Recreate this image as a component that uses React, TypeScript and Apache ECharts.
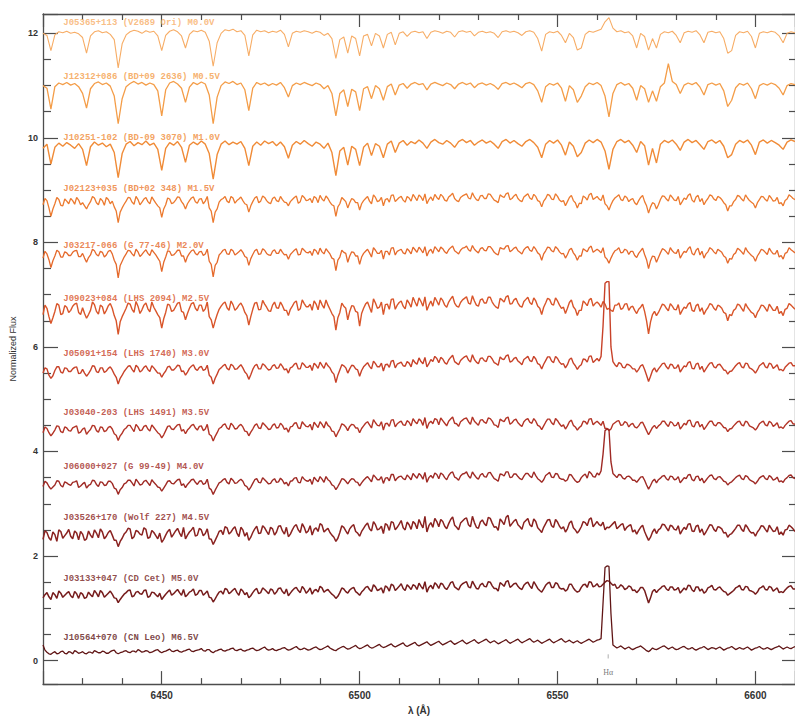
import React, { useEffect, useRef } from "react";
import * as echarts from "echarts";

// Wavelength sampling of the spectra (Angstrom): main samples at whole Angstrom,
// the later-type spectra also have samples half-way between them.
const waveStart = 6420;
const waveStep = 1;

// Axis tick layout: major every 50 A / 2 flux units, minor every 10 A / 0.5
const xTickStep = 50;
const xMinorPerMajor = 5;
const yTickStep = 2;
const yMinorPerMajor = 4;

const starNames = [
  "J05365+113 (V2689 Ori) M0.0V",
  "J12312+086 (BD+09 2636) M0.5V",
  "J10251-102 (BD-09 3070) M1.0V",
  "J02123+035 (BD+02 348) M1.5V",
  "J03217-066 (G 77-46) M2.0V",
  "J09023+084 (LHS 2094) M2.5V",
  "J05091+154 (LHS 1740) M3.0V",
  "J03040-203 (LHS 1491) M3.5V",
  "J06000+027 (G 99-49) M4.0V",
  "J03526+170 (Wolf 227) M4.5V",
  "J03133+047 (CD Cet) M5.0V",
  "J10564+070 (CN Leo) M6.5V",
];

const fluxM00 = [
  12.00,11.96,11.67,11.97,12.03,12.01,12.04,12.00,12.02,11.99,11.92,11.62,11.95,12.03,12.05,12.01,12.03,11.98,11.88,11.34,
  11.80,11.97,12.03,12.06,12.04,12.00,12.05,12.02,12.04,11.95,11.67,11.96,12.04,12.07,12.03,11.95,11.72,11.98,12.05,12.03,
  12.06,12.02,11.85,11.37,11.82,12.00,12.07,12.05,12.08,12.03,12.05,11.96,11.57,11.97,12.06,12.03,12.05,12.01,12.04,12.02,
  12.06,11.98,11.74,12.00,12.04,12.02,12.05,12.03,12.00,12.04,12.02,11.96,12.00,11.90,11.52,11.88,11.93,11.62,11.95,11.90,
  11.57,11.95,11.98,11.76,12.00,11.95,11.72,11.98,12.02,11.78,12.00,12.03,11.94,12.02,12.04,12.01,12.03,11.90,12.02,12.05,
  12.03,12.00,12.04,12.02,11.93,12.03,12.05,12.02,12.04,11.95,12.02,12.04,12.01,12.03,12.00,11.92,12.03,12.05,12.02,12.04,
  12.01,11.96,12.03,12.05,12.02,11.90,11.66,11.98,12.03,12.01,12.04,11.96,11.82,12.00,11.92,11.68,11.72,11.98,12.04,12.02,
  12.05,12.08,12.22,12.30,12.10,12.03,12.05,12.01,12.03,11.95,11.72,12.00,11.94,11.68,11.90,11.72,11.98,12.03,12.01,12.04,
  11.96,11.82,12.01,12.04,12.02,12.05,11.97,11.82,12.02,12.04,12.01,12.03,11.90,11.62,11.67,11.96,12.03,12.01,12.04,11.94,
  11.72,12.00,12.03,12.01,12.04,12.02,11.95,11.82,12.00,12.03,12.01,
];
const fluxM05 = [
  11.00,10.95,10.55,10.98,11.05,11.02,11.06,11.01,11.04,10.98,10.85,10.57,10.94,11.04,11.07,11.02,11.05,10.99,10.80,10.27,
  10.75,10.98,11.04,11.08,11.03,11.06,11.01,11.05,11.02,10.90,10.42,10.92,11.05,11.08,11.03,10.95,10.68,10.97,11.06,11.02,
  11.07,11.03,10.82,10.27,10.78,11.00,11.07,11.04,11.08,11.02,11.05,10.92,10.52,10.95,11.06,11.02,11.05,11.00,11.04,11.01,
  11.06,10.96,10.78,11.00,11.05,11.02,11.06,11.03,11.00,11.05,11.02,10.94,11.00,10.85,10.42,10.85,10.92,10.60,10.93,10.88,
  10.52,10.94,10.98,10.75,11.00,10.94,10.72,10.98,11.03,10.82,11.01,11.04,10.95,11.03,11.06,11.02,11.04,10.92,11.03,11.06,
  11.03,11.00,11.05,11.02,10.94,11.03,11.06,11.02,11.05,10.96,11.03,11.05,11.01,11.04,11.00,10.93,11.04,11.06,11.02,11.05,
  11.01,10.96,11.04,11.06,11.02,10.90,10.68,10.98,11.04,11.01,11.05,10.95,10.70,11.00,10.92,10.68,10.80,10.98,11.05,11.02,
  11.06,11.00,10.80,10.40,10.85,11.02,11.06,11.01,11.04,10.95,10.72,11.00,10.94,10.68,10.90,10.70,10.98,11.05,11.42,11.08,
  11.02,10.85,11.01,11.05,11.02,11.06,10.97,10.82,11.02,11.05,11.01,11.04,10.90,10.60,10.72,10.96,11.04,11.01,11.05,10.94,
  10.75,11.00,11.04,11.01,11.05,11.02,10.95,10.82,11.00,11.04,11.02,
];
const fluxM10 = [
  9.80,9.88,9.50,9.82,9.90,9.84,9.91,9.86,9.80,9.89,9.78,9.47,9.83,9.92,9.86,9.90,9.83,9.88,9.72,9.24,
  9.70,9.88,9.93,9.85,9.91,9.87,9.94,9.86,9.90,9.78,9.38,9.80,9.91,9.86,9.93,9.82,9.53,9.86,9.92,9.87,
  9.94,9.88,9.70,9.21,9.68,9.88,9.94,9.87,9.92,9.88,9.93,9.80,9.47,9.84,9.92,9.86,9.94,9.89,9.93,9.85,
  9.92,9.83,9.61,9.86,9.93,9.88,9.95,9.89,9.84,9.92,9.88,9.80,9.90,9.72,9.28,9.75,9.82,9.48,9.84,9.78,
  9.47,9.82,9.90,9.66,9.89,9.84,9.62,9.88,9.94,9.72,9.90,9.95,9.86,9.93,9.89,9.96,9.90,9.80,9.92,9.97,
  9.91,9.88,9.95,9.90,9.82,9.93,9.97,9.91,9.95,9.86,9.92,9.96,9.90,9.94,9.88,9.80,9.93,9.97,9.90,9.95,
  9.89,9.84,9.93,9.97,9.91,9.82,9.62,9.88,9.95,9.90,9.96,9.86,9.67,9.92,9.84,9.64,9.72,9.90,9.96,9.91,
  9.97,9.92,9.75,9.40,9.78,9.93,9.97,9.91,9.95,9.86,9.72,9.93,9.85,9.48,9.80,9.52,9.88,9.95,9.91,9.96,
  9.88,9.76,9.92,9.97,9.91,9.95,9.87,9.78,9.93,9.96,9.90,9.95,9.84,9.62,9.68,9.88,9.95,9.91,9.96,9.86,
  9.68,9.92,9.96,9.90,9.95,9.91,9.86,9.78,9.92,9.96,9.93,
];
const fluxM15 = [
  8.72,8.80,8.50,8.74,8.82,8.70,8.79,8.84,8.73,8.81,8.76,8.64,8.78,8.85,8.72,8.80,8.86,8.74,8.68,8.38,
  8.66,8.79,8.85,8.73,8.82,8.77,8.86,8.74,8.81,8.70,8.48,8.72,8.83,8.76,8.87,8.78,8.64,8.80,8.87,8.75,
  8.84,8.79,8.66,8.38,8.64,8.82,8.88,8.76,8.85,8.80,8.87,8.74,8.58,8.78,8.88,8.79,8.86,8.76,8.84,8.80,
  8.88,8.77,8.70,8.82,8.89,8.78,8.86,8.81,8.76,8.85,8.90,8.79,8.84,8.72,8.50,8.74,8.82,8.66,8.84,8.76,
  8.62,8.80,8.88,8.74,8.86,8.80,8.70,8.84,8.90,8.78,8.86,8.81,8.88,8.79,8.86,8.91,8.80,8.74,8.87,8.92,
  8.82,8.88,8.79,8.90,8.84,8.78,8.89,8.93,8.83,8.87,8.80,8.90,8.84,8.92,8.81,8.76,8.88,8.93,8.82,8.89,
  8.84,8.78,8.90,8.85,8.92,8.80,8.68,8.84,8.90,8.82,8.88,8.78,8.70,8.86,8.80,8.66,8.74,8.86,8.91,8.82,
  8.88,8.80,8.74,8.62,8.80,8.88,8.82,8.89,8.78,8.84,8.72,8.86,8.78,8.56,8.76,8.64,8.82,8.88,8.79,8.86,
  8.80,8.72,8.85,8.90,8.81,8.87,8.78,8.72,8.84,8.89,8.80,8.86,8.76,8.60,8.70,8.82,8.88,8.79,8.85,8.77,
  8.66,8.82,8.87,8.79,8.85,8.80,8.74,8.70,8.83,8.88,8.82,
];
const fluxM15Half = [
  8.84,8.66,8.64,8.86,8.71,8.83,8.74,8.80,8.86,8.72,8.70,8.72,8.88,8.76,8.84,8.71,8.82,8.79,8.60,8.58,
  8.73,8.86,8.77,8.88,8.72,8.83,8.78,8.87,8.75,8.66,8.64,8.85,8.74,8.81,8.86,8.73,8.74,8.85,8.78,8.83,
  8.74,8.88,8.60,8.58,8.77,8.84,8.79,8.88,8.75,8.83,8.80,8.72,8.70,8.85,8.76,8.89,8.80,8.74,8.87,8.78,
  8.82,8.76,8.78,8.86,8.75,8.90,8.80,8.84,8.88,8.76,8.83,8.89,8.77,8.70,8.68,8.86,8.78,8.76,8.82,8.76,
  8.74,8.84,8.79,8.91,8.78,8.86,8.82,8.77,8.91,8.82,8.88,8.77,8.85,8.92,8.80,8.87,8.93,8.82,8.80,8.86,
  8.92,8.81,8.87,8.94,8.80,8.86,8.91,8.85,8.95,8.82,8.89,8.84,8.93,8.86,8.79,8.91,8.86,8.95,8.84,8.92,
  8.80,8.87,8.93,8.82,8.88,8.78,8.79,8.92,8.83,8.93,8.81,8.80,8.78,8.90,8.76,8.75,8.89,8.81,8.94,8.85,
  8.83,8.91,8.70,8.72,8.85,8.91,8.80,8.86,8.82,8.76,8.80,8.90,8.70,8.68,8.74,8.72,8.89,8.83,8.91,8.81,
  8.88,8.78,8.82,8.93,8.77,8.90,8.84,8.79,8.91,8.83,8.88,8.82,8.72,8.70,8.78,8.90,8.83,8.91,8.80,8.74,
  8.76,8.88,8.82,8.90,8.79,8.86,8.76,8.80,8.91,8.84,
];
const fluxM20 = [
  7.70,7.78,7.52,7.74,7.82,7.72,7.80,7.75,7.84,7.73,7.79,7.62,7.76,7.84,7.74,7.81,7.76,7.85,7.66,7.32,
  7.64,7.78,7.84,7.74,7.82,7.77,7.86,7.75,7.81,7.70,7.44,7.72,7.83,7.76,7.85,7.74,7.62,7.79,7.86,7.76,
  7.83,7.78,7.64,7.34,7.62,7.80,7.87,7.77,7.84,7.79,7.86,7.73,7.56,7.77,7.87,7.78,7.85,7.76,7.83,7.79,
  7.87,7.76,7.68,7.81,7.88,7.77,7.85,7.80,7.75,7.84,7.89,7.78,7.83,7.70,7.46,7.72,7.81,7.62,7.82,7.74,
  7.58,7.79,7.87,7.72,7.85,7.79,7.68,7.83,7.89,7.76,7.85,7.80,7.88,7.78,7.86,7.91,7.80,7.74,7.87,7.92,
  7.82,7.88,7.79,7.90,7.84,7.78,7.89,7.93,7.83,7.87,7.80,7.90,7.84,7.92,7.81,7.76,7.88,7.93,7.82,7.89,
  7.84,7.78,7.90,7.85,7.92,7.80,7.66,7.84,7.90,7.82,7.88,7.78,7.70,7.86,7.80,7.66,7.74,7.85,7.90,7.81,
  7.87,7.80,7.72,7.60,7.78,7.86,7.80,7.87,7.77,7.83,7.71,7.84,7.77,7.50,7.74,7.62,7.80,7.86,7.77,7.84,
  7.79,7.70,7.83,7.88,7.79,7.85,7.76,7.70,7.82,7.87,7.78,7.84,7.74,7.60,7.68,7.80,7.86,7.77,7.83,7.75,
  7.64,7.80,7.85,7.77,7.83,7.78,7.72,7.68,7.81,7.86,7.80,
];
const fluxM20Half = [
  7.83,7.67,7.65,7.85,7.72,7.82,7.75,7.81,7.85,7.73,7.70,7.71,7.87,7.77,7.83,7.72,7.83,7.78,7.58,7.56,
  7.72,7.85,7.78,7.87,7.73,7.82,7.79,7.86,7.76,7.64,7.62,7.84,7.75,7.80,7.85,7.74,7.73,7.84,7.79,7.82,
  7.75,7.87,7.58,7.56,7.76,7.85,7.78,7.87,7.76,7.82,7.81,7.71,7.69,7.84,7.77,7.88,7.79,7.75,7.86,7.79,
  7.81,7.77,7.77,7.85,7.76,7.89,7.81,7.83,7.87,7.77,7.82,7.88,7.78,7.68,7.66,7.85,7.79,7.74,7.81,7.74,
  7.72,7.83,7.80,7.90,7.79,7.85,7.83,7.76,7.90,7.83,7.87,7.78,7.84,7.91,7.81,7.86,7.92,7.83,7.79,7.87,
  7.91,7.82,7.86,7.93,7.81,7.85,7.90,7.86,7.94,7.83,7.88,7.85,7.92,7.87,7.78,7.90,7.87,7.94,7.85,7.91,
  7.81,7.86,7.92,7.83,7.87,7.77,7.78,7.91,7.84,7.92,7.82,7.79,7.77,7.89,7.75,7.74,7.88,7.82,7.93,7.84,
  7.84,7.90,7.68,7.70,7.84,7.90,7.81,7.85,7.83,7.75,7.79,7.89,7.67,7.65,7.73,7.71,7.88,7.82,7.90,7.80,
  7.87,7.77,7.81,7.92,7.76,7.89,7.83,7.78,7.90,7.82,7.87,7.81,7.71,7.69,7.77,7.89,7.82,7.90,7.79,7.72,
  7.74,7.87,7.81,7.89,7.78,7.85,7.75,7.79,7.90,7.83,
];
const fluxM25 = [
  6.62,6.74,6.45,6.68,6.80,6.64,6.76,6.70,6.82,6.66,6.75,6.55,6.70,6.81,6.63,6.77,6.70,6.83,6.60,6.24,
  6.58,6.74,6.82,6.66,6.78,6.71,6.84,6.67,6.76,6.62,6.36,6.66,6.80,6.70,6.84,6.68,6.52,6.74,6.85,6.69,
  6.80,6.73,6.58,6.36,6.62,6.78,6.86,6.70,6.81,6.74,6.84,6.66,6.42,6.72,6.85,6.72,6.82,6.69,6.80,6.75,
  6.86,6.70,6.60,6.78,6.88,6.73,6.83,6.77,6.70,6.82,6.90,6.74,6.80,6.64,6.32,6.66,6.78,6.52,6.79,6.68,
  6.40,6.74,6.86,6.66,6.84,6.76,6.62,6.82,6.91,6.72,6.85,6.78,6.90,6.76,6.86,6.94,6.78,6.70,6.88,6.95,
  6.80,6.89,6.76,6.92,6.84,6.76,6.90,6.96,6.82,6.88,6.78,6.92,6.84,6.95,6.80,6.74,6.90,6.96,6.82,6.90,
  6.84,6.76,6.91,6.85,6.94,6.78,6.62,6.84,6.91,6.80,6.88,6.74,6.64,6.85,6.77,6.60,6.70,6.84,6.90,6.78,
  6.86,6.76,6.82,6.74,6.68,6.80,6.72,6.82,6.70,6.78,6.64,6.76,6.68,6.25,6.62,6.60,6.74,6.80,6.69,6.78,
  6.71,6.62,6.76,6.82,6.70,6.79,6.68,6.62,6.75,6.81,6.70,6.78,6.66,6.50,6.60,6.73,6.80,6.68,6.76,6.66,
  6.56,6.72,6.79,6.68,6.76,6.70,6.64,6.60,6.74,6.80,6.72,
];
const fluxM25Half = [
  6.80,6.58,6.56,6.83,6.62,6.79,6.66,6.78,6.84,6.62,6.64,6.62,6.86,6.68,6.80,6.63,6.79,6.74,6.50,6.48,
  6.66,6.84,6.72,6.87,6.64,6.80,6.73,6.86,6.69,6.56,6.54,6.82,6.68,6.77,6.85,6.66,6.64,6.83,6.74,6.80,
  6.68,6.86,6.52,6.50,6.72,6.83,6.75,6.88,6.70,6.80,6.77,6.60,6.58,6.84,6.71,6.89,6.76,6.68,6.86,6.74,
  6.79,6.70,6.72,6.85,6.70,6.90,6.77,6.82,6.88,6.71,6.81,6.90,6.72,6.58,6.56,6.84,6.74,6.68,6.78,6.66,
  6.64,6.82,6.76,6.92,6.74,6.86,6.81,6.72,6.92,6.80,6.88,6.73,6.84,6.95,6.78,6.87,6.96,6.80,6.78,6.88,
  6.94,6.80,6.86,6.97,6.78,6.85,6.93,6.84,6.98,6.80,6.90,6.84,6.95,6.86,6.76,6.93,6.86,6.98,6.83,6.93,
  6.78,6.87,6.95,6.81,6.88,6.74,6.76,6.93,6.82,6.94,6.80,6.76,6.74,6.90,6.72,6.70,6.88,6.79,6.93,6.83,
  6.82,6.87,6.72,6.70,6.80,6.84,6.74,6.83,6.76,6.70,6.72,6.82,6.50,6.48,6.68,6.66,6.82,6.74,6.83,6.72,
  6.81,6.70,6.74,6.85,6.68,6.82,6.75,6.70,6.83,6.74,6.80,6.74,6.64,6.62,6.70,6.82,6.74,6.83,6.71,6.64,
  6.66,6.80,6.74,6.82,6.70,6.78,6.68,6.72,6.83,6.76,
];
const fluxM30 = [
  5.50,5.58,5.40,5.55,5.62,5.50,5.59,5.53,5.61,5.49,5.57,5.44,5.55,5.63,5.51,5.60,5.54,5.62,5.48,5.29,
  5.46,5.58,5.64,5.52,5.61,5.55,5.64,5.53,5.60,5.50,5.42,5.54,5.63,5.56,5.65,5.53,5.46,5.59,5.66,5.55,
  5.63,5.57,5.46,5.29,5.48,5.60,5.67,5.56,5.64,5.58,5.66,5.52,5.38,5.57,5.67,5.58,5.65,5.56,5.64,5.59,
  5.68,5.56,5.50,5.62,5.69,5.58,5.66,5.61,5.55,5.65,5.71,5.59,5.64,5.52,5.32,5.56,5.64,5.50,5.65,5.58,
  5.44,5.62,5.70,5.58,5.68,5.62,5.54,5.67,5.73,5.60,5.69,5.64,5.72,5.62,5.70,5.79,5.68,5.62,5.76,5.82,
  5.70,5.77,5.67,5.80,5.72,5.66,5.78,5.83,5.71,5.76,5.68,5.79,5.72,5.82,5.70,5.65,5.77,5.83,5.71,5.78,
  5.73,5.66,5.79,5.74,5.82,5.68,5.58,5.74,5.81,5.70,5.78,5.67,5.60,5.76,5.69,5.57,5.66,5.76,5.82,5.70,
  5.78,5.82,7.22,7.25,5.72,5.62,5.68,5.60,5.66,5.58,5.52,5.64,5.57,5.34,5.55,5.52,5.63,5.69,5.58,5.66,
  5.60,5.52,5.64,5.70,5.59,5.67,5.57,5.52,5.64,5.70,5.60,5.67,5.56,5.48,5.54,5.64,5.70,5.60,5.68,5.58,
  5.50,5.64,5.70,5.60,5.67,5.62,5.56,5.54,5.65,5.70,5.64,
];
const fluxM30Half = [
  5.60,5.46,5.45,5.62,5.52,5.60,5.53,5.58,5.62,5.50,5.50,5.49,5.64,5.53,5.60,5.51,5.59,5.56,5.42,5.40,
  5.53,5.63,5.57,5.65,5.52,5.61,5.57,5.64,5.55,5.50,5.49,5.62,5.56,5.60,5.64,5.54,5.52,5.63,5.58,5.61,
  5.55,5.65,5.42,5.40,5.57,5.64,5.59,5.67,5.57,5.62,5.60,5.48,5.47,5.64,5.58,5.68,5.60,5.57,5.66,5.60,
  5.63,5.58,5.60,5.67,5.58,5.70,5.61,5.65,5.69,5.59,5.65,5.70,5.60,5.48,5.46,5.66,5.60,5.58,5.64,5.56,
  5.55,5.66,5.63,5.73,5.62,5.69,5.66,5.61,5.74,5.67,5.71,5.63,5.69,5.76,5.67,5.72,5.80,5.68,5.72,5.78,
  5.80,5.70,5.75,5.84,5.69,5.74,5.81,5.75,5.85,5.71,5.78,5.74,5.82,5.77,5.68,5.81,5.76,5.85,5.73,5.80,
  5.70,5.76,5.82,5.72,5.77,5.66,5.67,5.81,5.73,5.82,5.71,5.68,5.66,5.79,5.64,5.63,5.77,5.71,5.83,5.74,
  5.73,6.40,7.25,6.00,5.66,5.70,5.61,5.67,5.63,5.58,5.57,5.66,5.46,5.44,5.60,5.58,5.68,5.62,5.67,5.59,
  5.66,5.58,5.62,5.72,5.58,5.69,5.63,5.58,5.69,5.62,5.66,5.62,5.55,5.53,5.59,5.68,5.62,5.69,5.60,5.55,
  5.56,5.67,5.62,5.69,5.59,5.66,5.57,5.61,5.69,5.64,
];
const fluxM35 = [
  4.36,4.44,4.30,4.41,4.48,4.36,4.45,4.39,4.47,4.35,4.43,4.33,4.42,4.49,4.37,4.46,4.40,4.48,4.34,4.21,
  4.35,4.45,4.50,4.38,4.47,4.41,4.50,4.39,4.46,4.36,4.26,4.40,4.49,4.42,4.51,4.39,4.34,4.45,4.52,4.41,
  4.49,4.43,4.33,4.20,4.36,4.46,4.53,4.42,4.50,4.44,4.52,4.39,4.30,4.43,4.53,4.44,4.51,4.42,4.50,4.45,
  4.54,4.42,4.37,4.48,4.55,4.44,4.52,4.47,4.41,4.51,4.57,4.45,4.50,4.39,4.28,4.43,4.51,4.40,4.52,4.45,
  4.36,4.49,4.57,4.45,4.55,4.49,4.41,4.54,4.60,4.47,4.56,4.51,4.59,4.49,4.57,4.62,4.50,4.44,4.58,4.63,
  4.51,4.59,4.49,4.62,4.54,4.48,4.60,4.64,4.52,4.58,4.50,4.61,4.54,4.63,4.51,4.46,4.59,4.64,4.52,4.60,
  4.55,4.48,4.61,4.56,4.63,4.50,4.42,4.56,4.62,4.51,4.59,4.48,4.43,4.57,4.50,4.41,4.49,4.57,4.62,4.51,
  4.58,4.50,4.44,4.40,4.52,4.58,4.50,4.57,4.47,4.54,4.45,4.55,4.48,4.32,4.46,4.44,4.52,4.58,4.48,4.55,
  4.50,4.43,4.54,4.59,4.49,4.56,4.47,4.42,4.53,4.58,4.49,4.55,4.46,4.38,4.44,4.53,4.58,4.49,4.56,4.47,
  4.41,4.53,4.58,4.49,4.55,4.51,4.45,4.44,4.54,4.59,4.52,
];
const fluxM35Half = [
  4.47,4.36,4.35,4.49,4.38,4.47,4.40,4.45,4.49,4.37,4.45,4.38,4.50,4.40,4.47,4.38,4.46,4.43,4.31,4.30,
  4.42,4.50,4.44,4.52,4.40,4.48,4.43,4.51,4.41,4.33,4.32,4.48,4.43,4.47,4.52,4.42,4.41,4.50,4.45,4.48,
  4.40,4.52,4.30,4.29,4.44,4.51,4.45,4.54,4.43,4.49,4.47,4.38,4.37,4.50,4.45,4.55,4.47,4.43,4.53,4.46,
  4.50,4.45,4.47,4.54,4.45,4.57,4.48,4.52,4.56,4.46,4.52,4.57,4.47,4.38,4.36,4.53,4.47,4.48,4.51,4.45,
  4.44,4.54,4.51,4.61,4.50,4.57,4.53,4.48,4.61,4.53,4.58,4.50,4.56,4.63,4.53,4.59,4.65,4.54,4.53,4.61,
  4.64,4.54,4.58,4.66,4.53,4.57,4.63,4.57,4.66,4.54,4.60,4.56,4.64,4.58,4.50,4.62,4.57,4.66,4.55,4.62,
  4.51,4.57,4.63,4.54,4.58,4.48,4.49,4.62,4.55,4.63,4.53,4.51,4.49,4.60,4.47,4.46,4.58,4.52,4.63,4.55,
  4.54,4.58,4.44,4.43,4.55,4.59,4.51,4.55,4.52,4.47,4.49,4.56,4.40,4.39,4.50,4.49,4.58,4.52,4.57,4.49,
  4.56,4.48,4.51,4.60,4.47,4.57,4.52,4.47,4.58,4.51,4.55,4.51,4.45,4.43,4.49,4.57,4.51,4.58,4.49,4.45,
  4.46,4.56,4.51,4.58,4.48,4.55,4.47,4.50,4.58,4.53,
];
const fluxM40 = [
  3.33,3.40,3.28,3.36,3.43,3.32,3.40,3.35,3.42,3.31,3.38,3.30,3.37,3.44,3.33,3.41,3.36,3.43,3.30,3.18,
  3.31,3.40,3.45,3.34,3.42,3.37,3.45,3.35,3.41,3.32,3.24,3.36,3.44,3.38,3.46,3.35,3.31,3.41,3.47,3.37,
  3.44,3.39,3.30,3.18,3.33,3.42,3.48,3.38,3.45,3.40,3.47,3.35,3.26,3.39,3.48,3.40,3.46,3.38,3.45,3.41,
  3.49,3.38,3.34,3.44,3.50,3.40,3.47,3.43,3.37,3.46,3.52,3.41,3.46,3.36,3.27,3.40,3.47,3.38,3.48,3.42,
  3.34,3.45,3.52,3.42,3.51,3.46,3.39,3.50,3.56,3.44,3.52,3.48,3.55,3.46,3.53,3.58,3.47,3.41,3.54,3.59,
  3.48,3.56,3.46,3.59,3.51,3.45,3.57,3.61,3.49,3.55,3.47,3.58,3.51,3.60,3.48,3.43,3.56,3.61,3.50,3.57,
  3.52,3.46,3.58,3.53,3.61,3.48,3.41,3.54,3.60,3.50,3.57,3.47,3.43,3.56,3.49,3.41,3.50,3.57,3.62,3.52,
  3.59,3.63,4.40,4.42,3.58,3.50,3.55,3.47,3.53,3.45,3.41,3.51,3.45,3.28,3.43,3.40,3.49,3.54,3.45,3.52,
  3.47,3.40,3.50,3.55,3.46,3.52,3.44,3.40,3.50,3.55,3.46,3.52,3.43,3.36,3.42,3.50,3.55,3.46,3.52,3.44,
  3.38,3.49,3.54,3.46,3.51,3.47,3.42,3.41,3.50,3.55,3.48,
];
const fluxM40Half = [
  3.43,3.33,3.32,3.44,3.35,3.42,3.37,3.41,3.44,3.34,3.41,3.35,3.45,3.37,3.42,3.35,3.43,3.39,3.28,3.27,
  3.38,3.45,3.40,3.47,3.36,3.43,3.40,3.46,3.37,3.31,3.30,3.43,3.39,3.42,3.47,3.38,3.37,3.46,3.41,3.43,
  3.37,3.47,3.27,3.26,3.40,3.46,3.41,3.49,3.39,3.44,3.43,3.33,3.32,3.46,3.41,3.50,3.42,3.39,3.48,3.42,
  3.45,3.41,3.43,3.49,3.41,3.52,3.44,3.47,3.51,3.42,3.47,3.52,3.43,3.34,3.33,3.48,3.43,3.44,3.47,3.41,
  3.40,3.49,3.47,3.55,3.46,3.52,3.49,3.44,3.56,3.49,3.53,3.46,3.51,3.58,3.49,3.54,3.60,3.50,3.49,3.56,
  3.59,3.50,3.54,3.61,3.49,3.53,3.58,3.53,3.61,3.50,3.55,3.52,3.59,3.54,3.46,3.57,3.53,3.61,3.51,3.57,
  3.48,3.53,3.58,3.50,3.54,3.45,3.46,3.57,3.51,3.58,3.49,3.47,3.46,3.55,3.44,3.43,3.54,3.49,3.58,3.51,
  3.55,3.95,4.43,3.80,3.54,3.56,3.49,3.52,3.50,3.45,3.46,3.52,3.36,3.35,3.47,3.46,3.53,3.48,3.53,3.46,
  3.52,3.45,3.48,3.56,3.44,3.53,3.49,3.45,3.54,3.48,3.51,3.48,3.42,3.40,3.46,3.53,3.48,3.54,3.46,3.42,
  3.43,3.52,3.48,3.54,3.45,3.51,3.44,3.47,3.54,3.50,
];
const fluxM45 = [
  2.32,2.45,2.30,2.41,2.50,2.34,2.44,2.38,2.48,2.31,2.42,2.33,2.40,2.50,2.35,2.46,2.38,2.49,2.30,2.18,
  2.34,2.46,2.52,2.37,2.47,2.40,2.51,2.36,2.45,2.33,2.26,2.40,2.51,2.42,2.53,2.37,2.33,2.46,2.55,2.40,
  2.50,2.43,2.33,2.22,2.38,2.49,2.56,2.42,2.52,2.44,2.55,2.38,2.30,2.45,2.57,2.44,2.54,2.41,2.52,2.46,
  2.58,2.42,2.37,2.50,2.60,2.45,2.55,2.48,2.40,2.54,2.62,2.46,2.53,2.40,2.28,2.45,2.55,2.42,2.57,2.47,
  2.38,2.53,2.63,2.48,2.60,2.52,2.43,2.59,2.66,2.50,2.61,2.54,2.65,2.51,2.62,2.70,2.54,2.46,2.64,2.72,
  2.56,2.66,2.52,2.70,2.59,2.50,2.67,2.73,2.56,2.64,2.53,2.69,2.58,2.72,2.55,2.49,2.66,2.74,2.57,2.67,
  2.60,2.51,2.68,2.60,2.71,2.54,2.45,2.62,2.70,2.55,2.65,2.52,2.46,2.63,2.54,2.44,2.56,2.64,2.70,2.56,
  2.66,2.58,2.50,2.54,2.62,2.52,2.60,2.49,2.58,2.46,2.42,2.55,2.47,2.30,2.46,2.43,2.53,2.60,2.48,2.57,
  2.50,2.42,2.55,2.61,2.48,2.57,2.45,2.40,2.53,2.59,2.47,2.55,2.44,2.36,2.43,2.53,2.59,2.47,2.55,2.44,
  2.38,2.51,2.57,2.46,2.53,2.48,2.41,2.40,2.51,2.56,2.47,
];
const fluxM45Half = [
  2.48,2.35,2.46,2.28,2.47,2.39,2.51,2.33,2.44,2.47,2.30,2.48,2.35,2.44,2.52,2.33,2.45,2.40,2.30,2.28,
  2.42,2.53,2.33,2.49,2.42,2.54,2.34,2.49,2.39,2.44,2.32,2.47,2.36,2.48,2.44,2.55,2.40,2.50,2.38,2.53,
  2.39,2.52,2.32,2.30,2.47,2.41,2.54,2.46,2.56,2.37,2.50,2.45,2.36,2.52,2.43,2.58,2.47,2.55,2.40,2.57,
  2.48,2.55,2.42,2.57,2.50,2.62,2.44,2.58,2.51,2.47,2.59,2.50,2.45,2.36,2.34,2.58,2.48,2.52,2.60,2.44,
  2.47,2.59,2.52,2.66,2.50,2.57,2.62,2.49,2.64,2.55,2.68,2.50,2.60,2.66,2.52,2.61,2.76,2.58,2.55,2.66,
  2.70,2.57,2.62,2.75,2.55,2.63,2.71,2.60,2.76,2.55,2.65,2.62,2.74,2.63,2.56,2.71,2.60,2.78,2.62,2.70,
  2.56,2.64,2.72,2.56,2.66,2.50,2.55,2.69,2.58,2.70,2.57,2.56,2.52,2.67,2.50,2.49,2.66,2.58,2.73,2.61,
  2.60,2.65,2.55,2.58,2.66,2.56,2.62,2.55,2.60,2.50,2.49,2.59,2.38,2.36,2.52,2.50,2.61,2.54,2.59,2.51,
  2.58,2.49,2.51,2.62,2.47,2.59,2.52,2.46,2.60,2.51,2.56,2.52,2.45,2.41,2.48,2.59,2.51,2.60,2.48,2.45,
  2.46,2.58,2.51,2.59,2.47,2.56,2.46,2.50,2.59,2.52,
];
const fluxM50 = [
  1.20,1.30,1.17,1.26,1.33,1.21,1.29,1.24,1.32,1.19,1.27,1.21,1.26,1.34,1.22,1.30,1.25,1.33,1.20,1.11,
  1.22,1.30,1.35,1.24,1.32,1.27,1.35,1.23,1.30,1.22,1.17,1.27,1.35,1.28,1.36,1.25,1.22,1.31,1.37,1.27,
  1.34,1.29,1.21,1.12,1.25,1.33,1.38,1.28,1.35,1.30,1.37,1.26,1.20,1.30,1.38,1.30,1.36,1.28,1.35,1.31,
  1.39,1.28,1.24,1.34,1.40,1.30,1.37,1.33,1.27,1.36,1.42,1.31,1.36,1.27,1.19,1.30,1.37,1.29,1.38,1.32,
  1.25,1.35,1.42,1.32,1.41,1.36,1.29,1.40,1.46,1.34,1.42,1.38,1.45,1.36,1.43,1.48,1.37,1.31,1.44,1.49,
  1.38,1.46,1.36,1.49,1.41,1.35,1.47,1.51,1.39,1.45,1.37,1.48,1.41,1.50,1.38,1.33,1.46,1.51,1.40,1.47,
  1.42,1.36,1.48,1.43,1.51,1.38,1.31,1.44,1.50,1.40,1.47,1.37,1.33,1.46,1.39,1.31,1.40,1.46,1.51,1.41,
  1.47,1.42,1.50,1.52,1.44,1.38,1.45,1.36,1.43,1.34,1.30,1.40,1.34,1.10,1.32,1.30,1.38,1.43,1.34,1.41,
  1.36,1.29,1.39,1.44,1.35,1.41,1.33,1.29,1.39,1.44,1.35,1.41,1.32,1.25,1.31,1.39,1.44,1.35,1.41,1.33,
  1.27,1.38,1.43,1.35,1.40,1.36,1.30,1.30,1.39,1.43,1.37,
];
const fluxM50Half = [
  1.26,1.22,1.30,1.19,1.29,1.25,1.32,1.20,1.28,1.30,1.19,1.31,1.22,1.29,1.34,1.21,1.29,1.27,1.19,1.17,
  1.27,1.34,1.22,1.31,1.28,1.34,1.21,1.31,1.26,1.29,1.22,1.31,1.25,1.32,1.30,1.36,1.26,1.33,1.25,1.34,
  1.25,1.33,1.20,1.18,1.31,1.27,1.36,1.31,1.38,1.25,1.33,1.30,1.24,1.35,1.28,1.39,1.32,1.37,1.27,1.38,
  1.32,1.37,1.29,1.38,1.34,1.42,1.29,1.39,1.34,1.31,1.39,1.34,1.31,1.24,1.23,1.39,1.32,1.35,1.40,1.29,
  1.31,1.40,1.36,1.45,1.34,1.39,1.43,1.33,1.44,1.38,1.47,1.34,1.41,1.45,1.36,1.42,1.51,1.40,1.37,1.45,
  1.48,1.39,1.42,1.51,1.38,1.43,1.49,1.41,1.52,1.38,1.45,1.42,1.51,1.43,1.38,1.49,1.42,1.53,1.43,1.48,
  1.38,1.44,1.50,1.38,1.45,1.34,1.37,1.48,1.40,1.49,1.39,1.38,1.36,1.46,1.34,1.33,1.45,1.40,1.50,1.43,
  1.41,1.46,1.53,1.48,1.46,1.40,1.42,1.38,1.41,1.35,1.34,1.40,1.22,1.20,1.36,1.35,1.42,1.37,1.41,1.35,
  1.40,1.34,1.35,1.43,1.32,1.41,1.37,1.32,1.41,1.36,1.39,1.36,1.31,1.28,1.34,1.41,1.36,1.42,1.34,1.31,
  1.31,1.40,1.36,1.42,1.33,1.39,1.32,1.35,1.42,1.37,
];
const fluxM65 = [
  0.30,0.16,0.12,0.17,0.14,0.18,0.13,0.16,0.19,0.14,0.17,0.13,0.16,0.19,0.15,0.18,0.14,0.17,0.20,0.13,
  0.16,0.19,0.15,0.18,0.21,0.16,0.19,0.15,0.18,0.21,0.15,0.18,0.22,0.17,0.20,0.16,0.19,0.22,0.17,0.20,
  0.23,0.18,0.21,0.15,0.19,0.22,0.18,0.21,0.24,0.19,0.22,0.18,0.21,0.24,0.19,0.22,0.26,0.20,0.23,0.19,
  0.22,0.25,0.20,0.23,0.27,0.21,0.24,0.20,0.23,0.26,0.21,0.24,0.28,0.22,0.19,0.24,0.27,0.22,0.25,0.29,
  0.23,0.26,0.30,0.24,0.27,0.31,0.25,0.28,0.32,0.26,0.30,0.34,0.27,0.31,0.35,0.28,0.32,0.36,0.29,0.33,
  0.37,0.30,0.34,0.38,0.31,0.35,0.39,0.32,0.36,0.40,0.33,0.37,0.41,0.34,0.38,0.32,0.36,0.40,0.33,0.37,
  0.41,0.34,0.38,0.42,0.35,0.39,0.33,0.37,0.41,0.34,0.38,0.42,0.35,0.39,0.34,0.38,0.33,0.37,0.41,0.35,
  0.39,0.42,1.78,1.80,0.30,0.24,0.28,0.22,0.26,0.21,0.25,0.28,0.22,0.17,0.24,0.21,0.25,0.28,0.22,0.26,
  0.21,0.24,0.27,0.22,0.25,0.20,0.24,0.27,0.21,0.25,0.22,0.26,0.20,0.24,0.27,0.21,0.25,0.22,0.26,0.20,
  0.24,0.27,0.22,0.25,0.21,0.25,0.28,0.22,0.26,0.23,0.27,
];
const fluxM65Half = [
  0.20,0.13,0.15,0.13,0.17,0.14,0.17,0.13,0.17,0.15,0.14,0.16,0.14,0.17,0.15,0.17,0.14,0.19,0.15,0.15,
  0.18,0.16,0.18,0.16,0.19,0.17,0.18,0.16,0.20,0.17,0.17,0.20,0.18,0.19,0.17,0.18,0.21,0.18,0.19,0.21,
  0.19,0.21,0.17,0.18,0.21,0.19,0.20,0.23,0.20,0.21,0.19,0.20,0.23,0.21,0.20,0.24,0.22,0.21,0.20,0.21,
  0.24,0.22,0.21,0.25,0.23,0.22,0.22,0.21,0.25,0.23,0.22,0.26,0.24,0.20,0.22,0.26,0.24,0.23,0.27,0.25,
  0.24,0.28,0.26,0.25,0.29,0.27,0.26,0.30,0.28,0.28,0.32,0.29,0.29,0.33,0.30,0.30,0.34,0.32,0.31,0.35,
  0.33,0.32,0.36,0.34,0.33,0.37,0.35,0.34,0.38,0.36,0.35,0.39,0.37,0.36,0.35,0.34,0.38,0.36,0.35,0.39,
  0.37,0.36,0.40,0.38,0.37,0.36,0.35,0.39,0.37,0.36,0.40,0.38,0.37,0.36,0.36,0.35,0.35,0.39,0.38,0.37,
  0.40,1.10,1.81,0.90,0.27,0.26,0.25,0.24,0.23,0.23,0.26,0.25,0.19,0.20,0.22,0.23,0.27,0.25,0.24,0.23,
  0.22,0.26,0.24,0.23,0.22,0.22,0.25,0.24,0.23,0.24,0.24,0.23,0.22,0.25,0.24,0.23,0.23,0.24,0.23,0.22,
  0.25,0.24,0.23,0.23,0.23,0.26,0.25,0.24,0.24,0.25,
];

const spectra = [fluxM00, fluxM05, fluxM10, fluxM15, fluxM20, fluxM25, fluxM30, fluxM35, fluxM40, fluxM45, fluxM50, fluxM65];
const spectraHalf = [null, null, null, fluxM15Half, fluxM20Half, fluxM25Half, fluxM30Half, fluxM35Half, fluxM40Half, fluxM45Half, fluxM50Half, fluxM65Half];

const hAlphaWave = 6562.8;
const hAlphaName = "Hα";

// layout / style (not data)
const X_MIN = 6420;
const X_MAX = 6610;
const Y_MIN = -0.45;
const Y_MAX = 12.37;
const LABEL_X = 6425;
const LABEL_Y = [12.2, 11.17, 9.99, 9.02, 7.94, 6.91, 5.87, 4.74, 3.7, 2.72, 1.56, 0.43];
const HA_TICK_Y = [0.04, 0.12];
const HA_LABEL_Y = -0.22;
const COLORS = [
  "#f7ad66", "#f49d48", "#f08b37", "#ec7a2f", "#e5692b", "#d9552a",
  "#c84229", "#b33427", "#9f2a25", "#8a2220", "#761c1c", "#601515",
];
const WIDTHS = [1.1, 1.3, 1.4, 1.3, 1.3, 1.4, 1.4, 1.4, 1.4, 1.5, 1.5, 1.3];
const AXIS_COLOR = "#4d4d4d";

function toPoints(main: number[], half: number[] | null): number[][] {
  const pts: number[][] = [];
  main.forEach((v, i) => {
    pts.push([waveStart + i * waveStep, v]);
    if (half && i < half.length) pts.push([waveStart + (i + 0.5) * waveStep, half[i]]);
  });
  return pts;
}

export default function App() {
  const ref = useRef<HTMLDivElement>(null);

  useEffect(() => {
    if (!ref.current) return;
    const chart = echarts.init(ref.current, null, { renderer: "svg" });

    const tickStyle = { color: AXIS_COLOR, width: 1.2 };
    const axisLine = { show: true, onZero: false, lineStyle: { color: AXIS_COLOR, width: 1.3 } };
    const labelFont = { color: "#333", fontFamily: "Liberation Sans", fontWeight: "bold" };

    // splitNumber chosen so ECharts' nice interval equals the tick step (50 / 2)
    const xSplit = Math.round((X_MAX - X_MIN) / xTickStep);
    const ySplit = Math.round((Y_MAX - Y_MIN) / yTickStep);

    const xAx = (position: string, showLabels: boolean, extra: any = {}) => ({
      type: "value", min: X_MIN, max: X_MAX, splitNumber: xSplit, position,
      splitLine: { show: false },
      axisLine,
      axisTick: { show: true, inside: true, length: 13, lineStyle: tickStyle },
      minorTick: { show: true, splitNumber: xMinorPerMajor, length: 6, lineStyle: tickStyle },
      minorSplitLine: { show: false },
      axisLabel: showLabels
        ? { show: true, margin: 6, fontSize: 10, ...labelFont, showMinLabel: false, showMaxLabel: false,
            formatter: (v: number) => String(v) }
        : { show: false },
      ...extra,
    });
    const yAx = (position: string, showLabels: boolean, extra: any = {}) => ({
      type: "value", min: Y_MIN, max: Y_MAX, splitNumber: ySplit, position,
      splitLine: { show: false },
      axisLine,
      axisTick: { show: true, inside: true, length: position === "left" ? 15 : 13, lineStyle: tickStyle },
      minorTick: { show: true, splitNumber: yMinorPerMajor, length: position === "left" ? 8 : 6, lineStyle: tickStyle },
      minorSplitLine: { show: false },
      axisLabel: showLabels
        ? { show: true, margin: 5, fontSize: 9, ...labelFont, showMinLabel: false, showMaxLabel: false,
            formatter: (v: number) => String(v) }
        : { show: false },
      ...extra,
    });

    const lineSeries = spectra.map((vals, i) => ({
      type: "line",
      name: starNames[i],
      data: toPoints(vals, spectraHalf[i]),
      showSymbol: false,
      symbol: "none",
      silent: true,
      z: 2 + i,
      lineStyle: { color: COLORS[i], width: WIDTHS[i] },
    }));

    const option: any = {
      animation: false,
      backgroundColor: "#ffffff",
      grid: { left: 43, right: -2, top: 14, bottom: 28, containLabel: false },
      xAxis: [
        xAx("bottom", true, {
          name: "λ (Å)",
          nameLocation: "middle",
          nameGap: 17,
          nameTextStyle: { ...labelFont, fontSize: 10 },
        }),
        xAx("top", false),
      ],
      yAxis: [
        yAx("left", true, {
          name: "Normalized Flux",
          nameLocation: "middle",
          nameGap: 25,
          nameTextStyle: { color: "#333", fontFamily: "Liberation Sans", fontSize: 9 },
        }),
        yAx("right", false),
      ],
      series: [
        ...lineSeries,
        {
          type: "scatter",
          silent: true,
          symbolSize: 1,
          itemStyle: { color: "rgba(0,0,0,0)" },
          z: 20,
          data: starNames.map((n, i) => ({
            name: n,
            value: [LABEL_X, LABEL_Y[i]],
            label: { color: COLORS[i] },
          })),
          label: {
            show: true,
            position: "right",
            distance: 0,
            formatter: "{b}",
            fontFamily: "Liberation Mono",
            fontWeight: "bold",
            fontSize: 9,
          },
        },
        {
          type: "line",
          silent: true,
          symbol: "none",
          showSymbol: false,
          lineStyle: { color: "#999", width: 0.8 },
          data: HA_TICK_Y.map((y) => [hAlphaWave, y]),
          z: 1,
        },
        {
          type: "scatter",
          silent: true,
          symbolSize: 1,
          itemStyle: { color: "rgba(0,0,0,0)" },
          data: [{ name: hAlphaName, value: [hAlphaWave, HA_LABEL_Y] }],
          label: {
            show: true,
            position: "inside",
            formatter: "{b}",
            color: "#555",
            fontFamily: "Liberation Serif",
            fontSize: 8,
          },
        },
      ],
    };

    chart.setOption(option);
    return () => chart.dispose();
  }, []);

  return (
    <div
      ref={ref}
      style={{ position: "fixed", left: 0, top: 0, width: 795, height: 720, background: "#fff" }}
    />
  );
}
